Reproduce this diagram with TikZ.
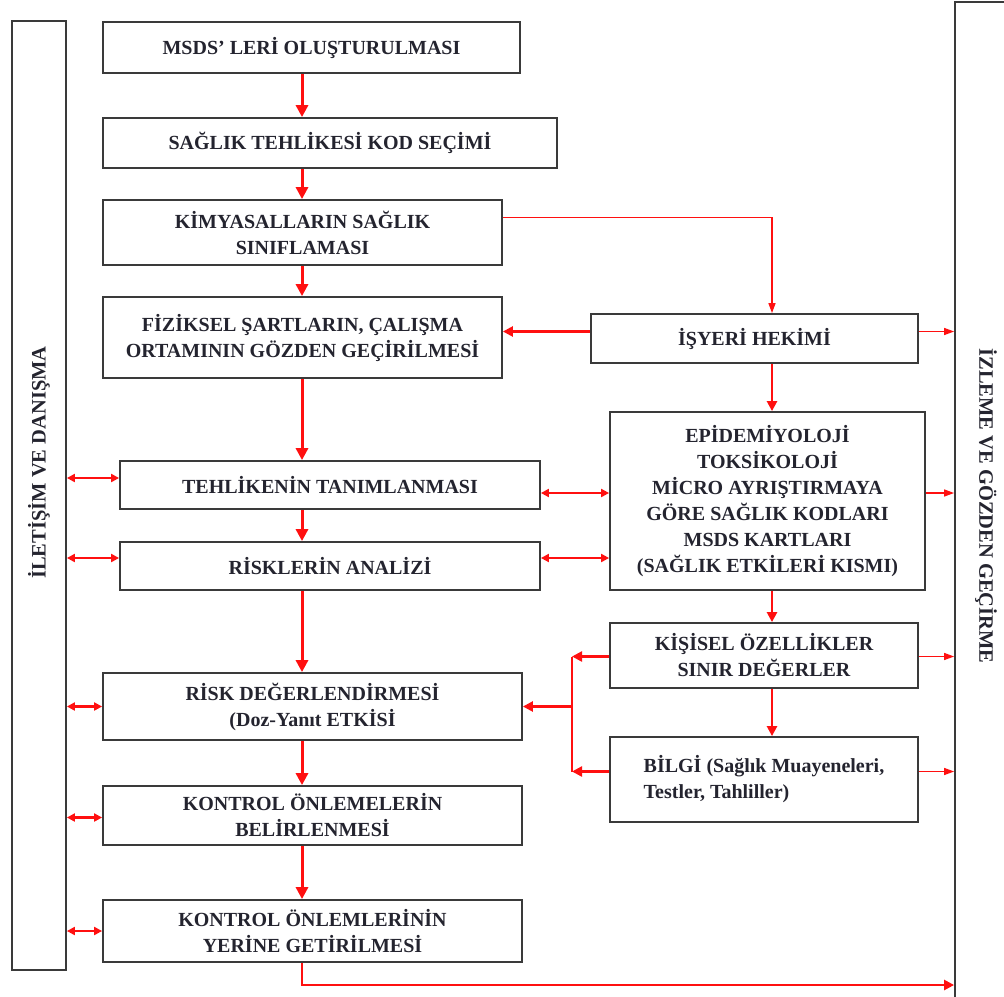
\documentclass[tikz,border=0pt]{standalone}
\usepackage{fontspec}
\setmainfont{Liberation Serif}
\usetikzlibrary{arrows.meta,positioning,calc}
\definecolor{cOk}{HTML}{FF1010}
\definecolor{cCizgi}{HTML}{3A3A3A}
\definecolor{cYazi}{HTML}{24242F}

\begin{document}
\begin{tikzpicture}[x=1pt,y=-1pt,
  b/.style={draw=cCizgi,line width=1.8pt,align=center,inner sep=2pt,
            font=\bfseries\fontsize{20}{26}\selectfont,text=cYazi},
  bar/.style={draw=cCizgi,line width=1.8pt,inner sep=0pt,
            font=\bfseries\fontsize{20.5}{24}\selectfont,text=cYazi},
  fl/.style={-{Triangle[length=12pt,width=12pt]},draw=cOk,line width=3pt},
  orta/.style={-{Triangle[length=10pt,width=10pt]},draw=cOk,line width=2.4pt},
  ince/.style={-{Triangle[length=10pt,width=7pt]},draw=cOk,line width=1.3pt},
  cift/.style={{Triangle[length=8pt,width=8pt]}-{Triangle[length=8pt,width=8pt]},
            draw=cOk,line width=2.2pt},
  ]
  \useasboundingbox (0,0) rectangle (1004,996);
  \fill[white] (0,0) rectangle (1004,996);

  % yan kutular
  \node[bar,minimum width=54,minimum height=949] (iletisim) at (39,495.5)
    {\rotatebox{90}{\hspace*{66pt}İLETİŞİM VE DANIŞMA}};
  \node[bar,minimum width=62,minimum height=1000] (izleme) at (986,502)
    {\rotatebox{-90}{\hspace*{8pt}İZLEME VE GÖZDEN GEÇİRME}};

  % ana akış
  \node[b,minimum width=417,minimum height=51] (msds) at (311.5,47.5)
    {MSDS' LERİ OLUŞTURULMASI};
  \node[b,minimum width=454,minimum height=50] (kod) at (330,143)
    {SAĞLIK TEHLİKESİ KOD SEÇİMİ};
  \node[b,minimum width=399,minimum height=65] (kimya) at (302.5,232.5)
    {KİMYASALLARIN SAĞLIK\\SINIFLAMASI};
  \node[b,minimum width=399,minimum height=81] (fizik) at (302.5,337.5)
    {FİZİKSEL ŞARTLARIN, ÇALIŞMA\\ORTAMININ GÖZDEN GEÇİRİLMESİ};
  \node[b,minimum width=420,minimum height=48] (tehlike) at (330,485)
    {TEHLİKENİN TANIMLANMASI};
  \node[b,minimum width=420,minimum height=48] (riskler) at (330,566)
    {RİSKLERİN ANALİZİ};
  \node[b,minimum width=419,minimum height=67] (degerl) at (312.5,706.5)
    {RİSK DEĞERLENDİRMESİ\\(Doz-Yanıt ETKİSİ};
  \node[b,minimum width=419,minimum height=59] (belirle) at (312.5,815.5)
    {KONTROL ÖNLEMELERİN\\BELİRLENMESİ};
  \node[b,minimum width=419,minimum height=62] (getir) at (312.5,931)
    {KONTROL ÖNLEMLERİNİN\\YERİNE GETİRİLMESİ};

  % sağlık kolu
  \node[b,minimum width=327,minimum height=49] (hekim) at (754.5,338.5)
    {İŞYERİ HEKİMİ};
  \node[b,minimum width=315,minimum height=178] (epi) at (767.5,501)
    {EPİDEMİYOLOJİ\\TOKSİKOLOJİ\\MİCRO AYRIŞTIRMAYA\\GÖRE SAĞLIK KODLARI\\
     MSDS KARTLARI\\(SAĞLIK ETKİLERİ KISMI)};
  \node[b,minimum width=308,minimum height=65] (kisisel) at (764,655.5)
    {KİŞİSEL ÖZELLİKLER\\SINIR DEĞERLER};
  \node[b,minimum width=308,minimum height=85,align=left] (bilgi) at (764,779.5)
    {BİLGİ (Sağlık Muayeneleri,\\Testler, Tahliller)};

  \coordinate (eksen) at (302,0);
  \coordinate (sag) at (772,0);
  \coordinate (dal) at (572,0);
  \coordinate (alt) at (0,985);

  \draw[fl] (msds.south -| eksen) -- (kod.north -| eksen);
  \draw[fl] (kod.south -| eksen) -- (kimya.north -| eksen);
  \draw[fl] (kimya.south -| eksen) -- (fizik.north -| eksen);
  \draw[fl] (fizik.south -| eksen) -- (tehlike.north -| eksen);
  \draw[fl] (tehlike.south -| eksen) -- (riskler.north -| eksen);
  \draw[fl] (riskler.south -| eksen) -- (degerl.north -| eksen);
  \draw[fl] (degerl.south -| eksen) -- (belirle.north -| eksen);
  \draw[fl] (belirle.south -| eksen) -- (getir.north -| eksen);
  \draw[orta] (getir.south -| eksen) |- (izleme.west |- alt);

  \draw[ince] ([yshift=15pt]kimya.east) -| (hekim.north -| sag);
  \draw[orta] ([yshift=7pt]hekim.west) -- ([yshift=7pt]hekim.west -| fizik.east);
  \draw[ince] ([yshift=7pt]hekim.east) -- ([yshift=7pt]hekim.east -| izleme.west);
  \draw[orta] (hekim.south -| sag) -- (epi.north -| sag);
  \draw[cift] ([yshift=-8pt]tehlike.east) -- ([yshift=-8pt]tehlike.east -| epi.west);
  \draw[cift] ([yshift=8pt]riskler.east) -- ([yshift=8pt]riskler.east -| epi.west);
  \draw[ince] ([yshift=8pt]epi.east) -- ([yshift=8pt]epi.east -| izleme.west);
  \draw[orta] (epi.south -| sag) -- (kisisel.north -| sag);
  \draw[orta] (kisisel.south -| sag) -- (bilgi.north -| sag);
  \draw[ince] ([yshift=-1pt]kisisel.east) -- ([yshift=-1pt]kisisel.east -| izleme.west);
  \draw[ince] ([yshift=8pt]bilgi.east) -- ([yshift=8pt]bilgi.east -| izleme.west);

  \draw[orta] ([yshift=-1pt]kisisel.west) -- ([yshift=-1pt]kisisel.west -| dal);
  \draw[orta] ([yshift=8pt]bilgi.west) -- ([yshift=8pt]bilgi.west -| dal);
  \draw[draw=cOk,line width=2.4pt] ([yshift=-1pt]kisisel.west -| dal)
    -- ([yshift=8pt]bilgi.west -| dal);
  \draw[orta] (degerl.east -| dal) -- (degerl.east);

  \draw[cift] ([yshift=7pt]tehlike.west -| iletisim.east) -- ([yshift=7pt]tehlike.west);
  \draw[cift] ([yshift=8pt]riskler.west -| iletisim.east) -- ([yshift=8pt]riskler.west);
  \draw[cift] (degerl.west -| iletisim.east) -- (degerl.west);
  \draw[cift] ([yshift=-2pt]belirle.west -| iletisim.east) -- ([yshift=-2pt]belirle.west);
  \draw[cift] (getir.west -| iletisim.east) -- (getir.west);
\end{tikzpicture}
\end{document}
